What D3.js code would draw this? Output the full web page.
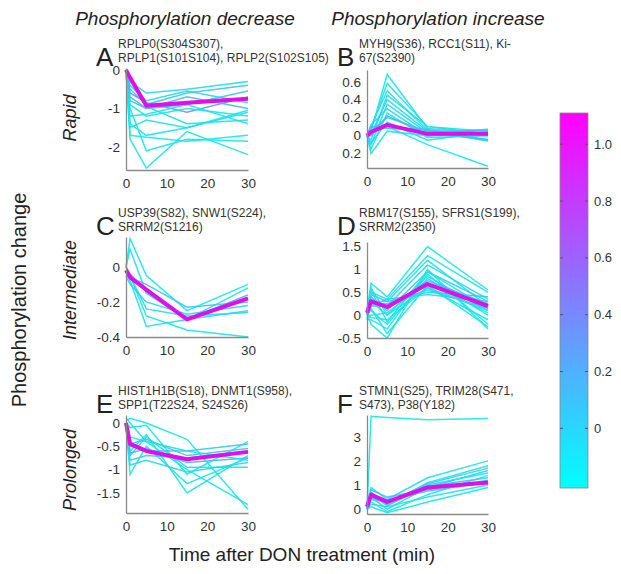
<!DOCTYPE html>
<html><head><meta charset="utf-8">
<script src="https://cdn.jsdelivr.net/npm/d3@7"></script>
<style>body{margin:0;background:#fff}svg{display:block}text{font-family:"Liberation Sans",Arial,sans-serif}</style>
</head><body><svg id="c" width="621" height="574"></svg>
<script>
// ---------- data ----------
const times = [0, 1, 5, 15, 30];
const xTicks = [0, 10, 20, 30];

const linesA = [
  [0,-0.3,-0.6,-0.5,-0.3],[0,-0.5,-0.9,-0.6,-0.4],[0,-0.8,-1.0,-0.9,-0.55],
  [0,-0.6,-0.85,-1.1,-0.7],[0,-0.9,-1.2,-1.0,-1.2],[0,-1.2,-1.15,-0.9,-1.4],
  [0,-1.5,-1.3,-1.5,-1.1],[0,-1.7,-1.75,-1.85,-1.7],[0,-1.0,-2.1,-1.8,-1.85],
  [0,-1.8,-2.55,-1.6,-2.2],[0,-0.7,-1.0,-0.7,-1.0],[0,-0.4,-0.8,-0.55,-0.85],
  [0,-0.2,-0.95,-1.4,-1.3],[0,-1.4,-1.7,-1.5,-1.05]];
const memberA = [-0.1,0.0,0.05,0.45,-0.15,-0.18,-0.15,-0.2,-0.18,-0.2,0.1,-0.05,-0.15,-0.2];
const centerA = [0,-0.2,-0.93,-0.85,-0.75];
const yTicksA = [0,-1,-2], yLabelsA = ["0","-1","-2"];

const linesB = [
  [0,0.05,0.68,0.08,0.03],[0,0.08,0.58,0.1,0.05],[0,0.1,0.5,0.06,0.0],
  [0,-0.05,0.45,0.1,0.02],[0,0.02,0.4,0.05,0.06],[0,-0.1,0.35,0.03,-0.04],
  [0,0.12,0.3,0.0,0.04],[0,-0.15,0.25,-0.02,0.0],[0,0.05,0.2,0.05,-0.06],
  [0,-0.08,0.15,-0.05,0.04],[0,0.03,0.1,-0.1,-0.34],[0,-0.2,0.05,0.0,0.02],
  [0,0.1,0.08,0.07,-0.05],[0,0.0,0.22,0.02,0.07]];
const memberB = [-0.2,-0.15,-0.15,-0.1,-0.1,-0.15,-0.05,-0.15,0.0,-0.1,-0.2,-0.15,0.05,0.1];
const centerB = [0,0.04,0.12,0.02,0.02];
const yTicksB = [-0.2,0,0.2,0.4,0.6], yLabelsB = ["0.2","0","0.2","0.4","0.6"];

const linesC = [
  [0.0,0.16,-0.05,-0.25,-0.1],[0.0,0.1,-0.15,-0.3,-0.12],[-0.02,-0.08,-0.34,-0.3,-0.25],
  [-0.03,-0.05,-0.24,-0.28,-0.26],[0.0,-0.05,-0.28,-0.36,-0.4],[-0.02,-0.06,-0.1,-0.23,-0.2],
  [0.0,-0.04,-0.14,-0.3,-0.16],[-0.05,-0.1,-0.2,-0.27,-0.22]];
const memberC = [-0.2,-0.15,-0.15,-0.1,-0.2,0.05,0.3,-0.05];
const centerC = [-0.02,-0.06,-0.13,-0.3,-0.18];
const yTicksC = [0,-0.2,-0.4], yLabelsC = ["0","-0.2","-0.4"];

const linesD = [
  [0.1,0.7,0.4,1.5,0.55],[0.0,0.5,0.35,1.3,0.5],[0.1,0.3,0.3,1.2,0.2],
  [0.05,-0.2,-0.5,1.0,-0.3],[0.0,0.2,0.2,1.1,0.35],[0.15,0.4,0.1,0.95,0.3],
  [-0.1,-0.1,-0.3,0.9,-0.2],[0.0,0.6,0.0,0.85,0.1],[0.1,0.1,-0.2,0.8,0.0],
  [0.05,0.35,0.15,0.75,0.25],[0.0,-0.05,-0.1,0.6,-0.1],[0.2,0.25,0.25,0.55,0.15],
  [-0.05,0.15,-0.4,0.65,-0.25],[0.1,0.45,0.3,0.5,0.4],[0.0,0.0,0.05,0.7,0.05],
  [0.1,0.55,-0.15,0.95,0.15],[0.05,0.2,0.35,0.45,0.3],[-0.1,0.3,0.0,0.6,0.1]];
const memberD = [-0.2,-0.15,-0.15,-0.2,-0.1,-0.05,-0.2,-0.15,-0.2,0.05,-0.2,-0.05,-0.2,0.0,-0.2,-0.15,-0.05,-0.15];
const centerD = [0.05,0.3,0.18,0.68,0.2];
const yTicksD = [-0.5,0,0.5,1,1.5], yLabelsD = ["-0.5","0","0.5","1","1.5"];

const linesE = [
  [0.05,0.1,0.0,-0.35,-1.85],[0.0,-0.1,-0.05,-1.1,-0.4],[-0.1,-0.6,-0.25,-1.5,-0.7],
  [0.0,-1.1,-0.5,-1.3,-0.75],[-0.05,-0.7,-0.3,-0.95,-0.95],[0.0,-0.5,-0.6,-0.6,-0.45],
  [-0.1,-0.3,-0.4,-1.0,-1.75],[0.0,-0.8,-0.7,-0.75,-0.6],[-0.05,-0.65,-0.55,-0.85,-0.75],
  [0.0,-0.45,-0.35,-0.7,-0.55],[0.1,0.0,-0.4,-0.6,-0.8],[-0.1,-0.9,-0.8,-1.05,-0.85]];
const memberE = [-0.2,-0.2,-0.15,-0.2,-0.1,0.05,-0.2,-0.05,0.1,0.0,-0.15,-0.1];
const centerE = [0.0,-0.45,-0.6,-0.78,-0.62];
const yTicksE = [0,-0.5,-1,-1.5], yLabelsE = ["0","-0.5","-1","-1.5"];

const linesF = [
  [0.0,3.85,3.8,3.7,3.75],[0.1,0.9,0.4,1.3,2.0],[0.0,0.7,0.2,1.1,1.8],
  [0.05,0.5,0.0,0.9,1.6],[0.2,0.4,0.3,1.0,1.5],[0.0,0.3,-0.1,0.6,1.4],
  [0.1,0.8,0.5,0.8,1.2],[0.0,0.2,0.1,0.5,1.0],[0.1,0.6,0.15,0.95,1.3],
  [0.05,0.45,0.35,0.75,1.1],[0.0,0.1,-0.15,0.3,0.9],[0.15,0.65,0.25,1.05,1.7]];
const memberF = [-0.2,-0.15,-0.1,-0.05,-0.15,-0.2,0.05,-0.2,0.0,0.1,-0.2,-0.05];
const centerF = [0.1,0.6,0.3,0.9,1.1];
const yTicksF = [0,1,2,3], yLabelsF = ["0","1","2","3"];

const genesA = ["RPLP0(S304S307),", "RPLP1(S101S104), RPLP2(S102S105)"];
const genesB = ["MYH9(S36), RCC1(S11), Ki-", "67(S2390)"];
const genesC = ["USP39(S82), SNW1(S224),", "SRRM2(S1216)"];
const genesD = ["RBM17(S155), SFRS1(S199),", "SRRM2(2350)"];
const genesE = ["HIST1H1B(S18), DNMT1(S958),", "SPP1(T22S24, S24S26)"];
const genesF = ["STMN1(S25), TRIM28(S471,", "S473), P38(Y182)"];

const colTitles = ["Phosphorylation decrease", "Phosphorylation increase"];
const rowTitles = ["Rapid", "Intermediate", "Prolonged"];
const colorTicks = [0, 0.2, 0.4, 0.6, 0.8, 1.0];
const colorLabels = ["0", "0.2", "0.4", "0.6", "0.8", "1.0"];
const colorDomain = [-0.21, 1.11];

// ---------- layout ----------
const svg = d3.select("#c");
const cool = v => { const t = Math.max(0, Math.min(1, (v - colorDomain[0]) / (colorDomain[1] - colorDomain[0]))); return d3.rgb(255*t, 255*(1-t), 255); };
const lineColor = v => d3.interpolateRgb(cool(v), "#3fb5b8")(0.3);

const panels = [
  {letter:"A", lines:linesA, mem:memberA, center:centerA, ticks:yTicksA, labels:yLabelsA, genes:genesA, dom:[-2.6,0.05], x0:126, x1:248, top:68, bot:170},
  {letter:"B", lines:linesB, mem:memberB, center:centerB, ticks:yTicksB, labels:yLabelsB, genes:genesB, dom:[-0.36,0.73], x0:367, x1:488, top:70, bot:168},
  {letter:"C", lines:linesC, mem:memberC, center:centerC, ticks:yTicksC, labels:yLabelsC, genes:genesC, dom:[-0.4,0.17], x0:126, x1:248, top:237, bot:337},
  {letter:"D", lines:linesD, mem:memberD, center:centerD, ticks:yTicksD, labels:yLabelsD, genes:genesD, dom:[-0.5,1.6], x0:367, x1:488, top:242, bot:338},
  {letter:"E", lines:linesE, mem:memberE, center:centerE, ticks:yTicksE, labels:yLabelsE, genes:genesE, dom:[-1.93,0.17], x0:126, x1:248, top:415, bot:513},
  {letter:"F", lines:linesF, mem:memberF, center:centerF, ticks:yTicksF, labels:yLabelsF, genes:genesF, dom:[-0.2,3.9], x0:367, x1:488, top:415, bot:514}
];
const genesTop = {"A":48,"B":48,"C":217,"D":217,"E":395,"F":395};

panels.forEach(p => {
  const x = d3.scaleLinear().domain([0,30]).range([p.x0, p.x1]);
  const y = d3.scaleLinear().domain(p.dom).range([p.bot, p.top]);
  const g = svg.append("g");
  const line = d3.line().x((d,i)=>x(times[i])).y(d=>y(d));
  g.selectAll("path.m").data(p.lines).enter().append("path")
    .attr("d", line).attr("fill","none")
    .attr("stroke",(d,i)=>lineColor(p.mem[i]))
    .attr("stroke-width",1.5).attr("stroke-opacity",0.9);
  g.append("path").datum(p.center).attr("d", line).attr("fill","none")
    .attr("stroke", d3.interpolateRgb(cool(1.0), "#e000d8")(0.5)).attr("stroke-width",4).attr("stroke-linejoin","round");
  const ax = g.append("g").attr("transform",`translate(${p.x0},0)`)
    .call(d3.axisLeft(y).tickValues(p.ticks).tickFormat((d,i)=>p.labels[i]).tickSize(0).tickPadding(6));
  const bx = g.append("g").attr("transform",`translate(0,${p.bot})`)
    .call(d3.axisBottom(x).tickValues(xTicks).tickSize(0).tickPadding(8));
  [ax,bx].forEach(a=>{
    a.select(".domain").attr("stroke","#8a8a8a").attr("stroke-width",1.3);
    a.selectAll("text").attr("font-size",13.5).attr("fill","#333");
  });
  const gy = genesTop[p.letter];
  svg.append("text").attr("x", p.x0-30).attr("y", gy+18).attr("font-size",26).attr("fill","#222").text(p.letter);
  p.genes.forEach((t,i)=>svg.append("text").attr("x",p.x0-8).attr("y",gy+i*13.5).attr("font-size",12).attr("fill","#333").text(t));
});

// titles
svg.append("text").attr("x",185).attr("y",25).attr("text-anchor","middle").attr("font-size",19).attr("font-style","italic").attr("fill","#222").text(colTitles[0]);
svg.append("text").attr("x",438).attr("y",25).attr("text-anchor","middle").attr("font-size",19).attr("font-style","italic").attr("fill","#222").text(colTitles[1]);
[118,290,470].forEach((cy,i)=>svg.append("text").attr("transform",`translate(76,${cy}) rotate(-90)`).attr("text-anchor","middle").attr("font-size",18).attr("font-style","italic").attr("fill","#222").text(rowTitles[i]));
svg.append("text").attr("transform","translate(26,300) rotate(-90)").attr("text-anchor","middle").attr("font-size",20).attr("fill","#222").text("Phosphorylation change");
svg.append("text").attr("x",302).attr("y",561).attr("text-anchor","middle").attr("font-size",19).attr("fill","#222").text("Time after DON treatment (min)");

// colorbar
const cbX = 560, cbW = 28, cbTop = 113, cbBot = 488;
const cy = d3.scaleLinear().domain(colorDomain).range([cbBot, cbTop]);
const grad = svg.append("defs").append("linearGradient").attr("id","cg").attr("x1",0).attr("y1",1).attr("x2",0).attr("y2",0);
d3.range(0,1.0001,0.1).forEach(t=>grad.append("stop").attr("offset",t).attr("stop-color",cool(colorDomain[0]+t*(colorDomain[1]-colorDomain[0]))));
svg.append("rect").attr("x",cbX).attr("y",cbTop).attr("width",cbW).attr("height",cbBot-cbTop).attr("fill","url(#cg)").attr("stroke","#888").attr("stroke-width",0.8);
colorTicks.forEach((v,i)=>{
  const yy = cy(v);
  svg.append("line").attr("x1",cbX).attr("x2",cbX+3).attr("y1",yy).attr("y2",yy).attr("stroke","#555");
  svg.append("line").attr("x1",cbX+cbW-3).attr("x2",cbX+cbW).attr("y1",yy).attr("y2",yy).attr("stroke","#555");
  svg.append("text").attr("x",cbX+cbW+6).attr("y",yy+4.5).attr("font-size",13).attr("fill","#333").text(colorLabels[i]);
});
</script></body></html>
